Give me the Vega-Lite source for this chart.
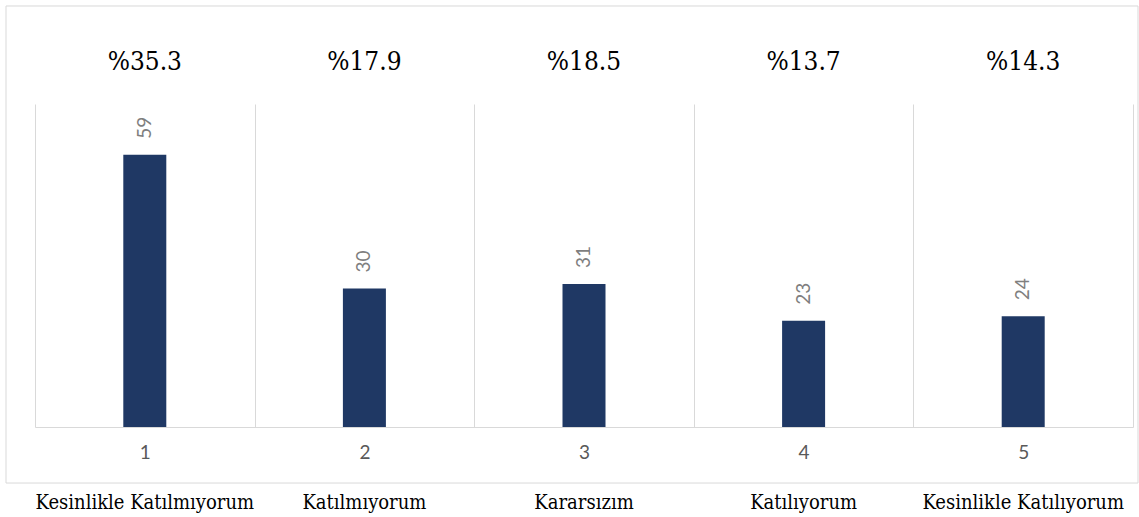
{
  "$schema": "https://vega.github.io/schema/vega-lite/v6.json",
  "autosize": {"type": "none"},
  "padding": {"left": 35, "top": 104, "right": 6, "bottom": 90},
  "width": 1098,
  "height": 323,
  "background": "white",
  "config": {"view": {"stroke": null}},
  "data": {
    "values": [
      {"cat": "1", "label": "Kesinlikle Katılmıyorum", "count": 59, "pct": "%35.3"},
      {"cat": "2", "label": "Katılmıyorum", "count": 30, "pct": "%17.9"},
      {"cat": "3", "label": "Kararsızım", "count": 31, "pct": "%18.5"},
      {"cat": "4", "label": "Katılıyorum", "count": 23, "pct": "%13.7"},
      {"cat": "5", "label": "Kesinlikle Katılıyorum", "count": 24, "pct": "%14.3"}
    ]
  },
  "encoding": {
    "x": {
      "field": "cat",
      "type": "ordinal",
      "scale": {"paddingInner": 0, "paddingOuter": 0},
      "axis": {
        "title": null,
        "labelAngle": 0,
        "grid": true,
        "tickBand": "extent",
        "gridColor": "#d9d9d9",
        "gridWidth": 1,
        "domainColor": "#d9d9d9",
        "domainWidth": 1,
        "ticks": false,
        "labelFont": "Lato",
        "labelFontSize": 19,
        "labelColor": "#595959",
        "labelPadding": 16
      }
    }
  },
  "layer": [
    {
      "mark": {"type": "bar", "width": 43, "color": "#1f3864"},
      "encoding": {
        "y": {"field": "count", "type": "quantitative", "scale": {"domain": [0, 70], "nice": false}, "axis": null}
      }
    },
    {
      "mark": {"type": "text", "angle": 270, "align": "left", "baseline": "middle", "dx": 16, "font": "Lato", "fontSize": 19, "color": "#7f7f7f"},
      "encoding": {
        "y": {"field": "count", "type": "quantitative"},
        "text": {"field": "count", "type": "quantitative"}
      }
    },
    {
      "mark": {"type": "text", "baseline": "alphabetic", "align": "center", "font": "DejaVu Serif Condensed", "fontSize": 26, "color": "#000000"},
      "encoding": {
        "y": {"datum": 77.4, "type": "quantitative"},
        "text": {"field": "pct", "type": "nominal"}
      }
    },
    {
      "mark": {"type": "text", "baseline": "alphabetic", "align": "center", "font": "DejaVu Serif Condensed", "fontSize": 20, "color": "#000000"},
      "encoding": {
        "y": {"datum": -17.8, "type": "quantitative"},
        "text": {"field": "label", "type": "nominal"}
      }
    },
    {
      "transform": [{"filter": "datum.cat == '1'"}],
      "mark": {"type": "rect", "fill": null, "stroke": "#d9d9d9", "strokeWidth": 1},
      "encoding": {
        "x": {"datum": "1", "type": "ordinal", "bandPosition": -0.132},
        "x2": {"datum": "5", "bandPosition": 1.0228},
        "y": {"datum": -12.14, "type": "quantitative"},
        "y2": {"datum": 91.24}
      }
    }
  ]
}
